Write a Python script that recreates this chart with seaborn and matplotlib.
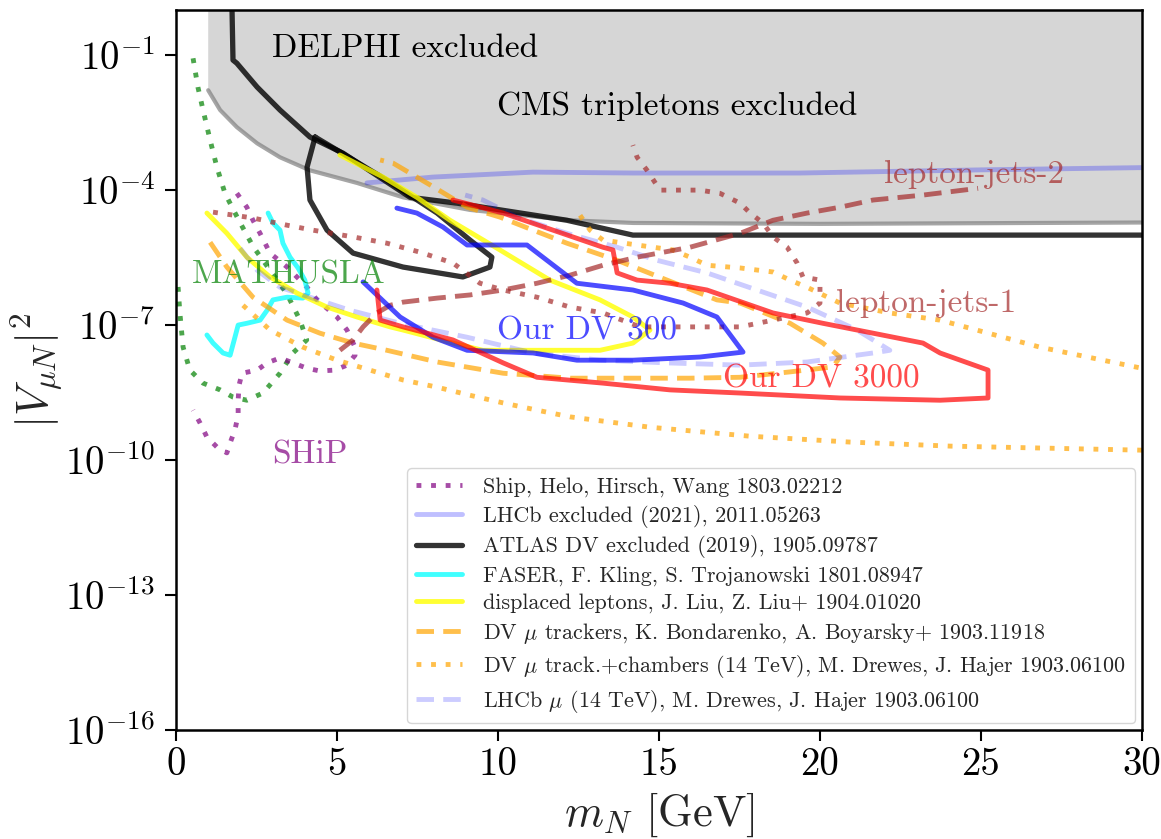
import numpy as np
import matplotlib
matplotlib.use("Agg")
import matplotlib.pyplot as plt
import seaborn as sns

# ---- data: heavy neutrino mass m_N [GeV] and log10 |V_muN|^2 ----
excl_x = [1.0, 1.0, 1.37, 1.89, 2.52, 3.23, 4.16, 5.62, 7.05, 9.13, 12.24, 14.2, 20.0, 30.0]
excl_logv = [0.0, -1.78, -2.22, -2.6, -2.96, -3.27, -3.56, -3.84, -4.16, -4.44, -4.67, -4.73, -4.75, -4.72]

atlas_x = [1.74, 1.77, 1.89, 2.52, 3.23, 4.16, 5.19, 7.27, 8.73, 12.14, 14.19, 30.0]
atlas_logv = [0.0, -1.11, -1.18, -1.71, -2.22, -2.82, -3.18, -4.16, -4.29, -4.67, -5.0, -5.0]
atlas_loop_x = [4.32, 4.07, 4.16, 4.69, 5.5, 7.05, 8.91, 9.75, 9.81, 9.13, 8.11, 6.55, 5.0, 4.32]
atlas_loop_logv = [-2.82, -3.49, -4.22, -4.89, -5.4, -5.71, -5.93, -5.71, -5.49, -5.11, -4.51, -3.78, -3.11, -2.82]

lhcb_x = [5.93, 7.98, 11.09, 14.19, 19.38, 25.0, 30.0]
lhcb_logv = [-3.84, -3.71, -3.6, -3.62, -3.62, -3.55, -3.5]

mathusla_x = [0.53, 0.68, 0.84, 1.06, 1.27, 1.52, 1.95, 2.4, 2.92, 3.44, 3.85, 4.06, 3.63, 3.23,
              2.7, 2.2, 1.77, 1.37, 0.84, 0.43, 0.22, 0.12, 0.06]
mathusla_logv = [-1.07, -1.71, -2.22, -2.89, -3.49, -4.07, -4.67, -5.26, -5.78, -6.3, -6.89, -7.33,
                 -7.62, -8.07, -8.51, -8.67, -8.6, -8.44, -8.29, -8.0, -7.49, -6.73, -6.11]

ship_x = [1.89, 2.2, 2.39, 2.61, 2.92, 3.45, 4.07, 4.38, 5.0, 5.31, 5.56, 5.56, 5.31, 4.94, 4.47,
          4.07, 3.63, 3.23, 2.83, 2.52, 2.05, 1.96, 1.93, 1.93, 1.83, 1.68, 1.58, 1.27, 0.96, 0.75, 0.53]
ship_logv = [-4.07, -4.38, -4.67, -4.96, -5.4, -5.71, -6.16, -6.44, -6.82, -7.11, -7.49, -7.67, -7.89,
             -8.0, -8.02, -7.96, -7.84, -7.73, -7.84, -8.0, -8.07, -8.33, -8.67, -9.0, -9.33, -9.62,
             -9.84, -9.71, -9.49, -9.18, -8.89]

faser_x = [2.86, 3.01, 3.23, 3.32, 3.54, 3.79, 4.0, 4.1, 3.94, 3.45, 3.01, 2.83, 2.61, 2.2, 1.93,
           1.83, 1.68, 1.46, 1.15, 0.96]
faser_logv = [-4.51, -4.73, -4.89, -5.18, -5.49, -5.73, -6.0, -6.29, -6.4, -6.38, -6.44, -6.67, -6.89,
              -6.96, -7.0, -7.27, -7.67, -7.62, -7.4, -7.22]

displ_x = [0.96, 1.58, 2.2, 2.92, 3.76, 4.69, 5.62, 6.65, 7.05, 8.6, 9.53, 11.09, 13.17, 14.19, 14.72,
           14.19, 13.17, 11.61, 10.06, 8.51, 7.48, 6.43, 5.09]
displ_logv = [-4.51, -4.96, -5.49, -5.93, -6.29, -6.6, -6.82, -7.04, -7.11, -7.4, -7.56, -7.56, -7.56,
              -7.4, -7.11, -6.82, -6.44, -6.0, -5.33, -4.67, -4.16, -3.71, -3.22]

trk_x = [1.06, 1.58, 2.39, 3.45, 4.47, 5.5, 6.55, 8.11, 10.16, 12.24, 14.41, 15.96, 17.52, 19.07, 20.4,
         20.62, 20.09, 19.07, 17.52, 16.8, 15.25, 13.7, 12.14, 11.09, 10.06, 9.04, 8.0, 6.74, 6.34]
trk_logv = [-5.16, -5.71, -6.38, -6.89, -7.18, -7.4, -7.56, -7.82, -8.07, -8.18, -8.18, -8.18, -8.16,
            -8.04, -7.93, -7.71, -7.4, -6.96, -6.51, -6.44, -6.0, -5.56, -5.18, -4.89, -4.6, -4.38,
            -3.93, -3.4, -3.33]

chamb_lo_x = [2.08, 2.92, 3.94, 5.0, 6.02, 7.05, 8.11, 9.13, 10.16, 11.21, 12.24, 14.72, 17.83, 20.93,
              24.04, 30.0]
chamb_lo_logv = [-6.56, -7.11, -7.49, -7.78, -8.0, -8.22, -8.38, -8.56, -8.73, -8.89, -9.04, -9.27,
                 -9.47, -9.6, -9.69, -9.78]
chamb_hi_x = [12.55, 12.86, 13.26, 14.32, 15.43, 15.96, 16.49, 17.52, 18.54, 19.07, 19.6, 20.62, 22.17,
              23.73, 26.83, 30.0]
chamb_hi_logv = [-4.56, -4.89, -5.11, -5.22, -5.33, -5.49, -5.67, -5.73, -5.82, -6.0, -6.16, -6.51,
                 -6.73, -6.89, -7.49, -7.96]

lhcb14_x = [1.99, 2.52, 3.23, 4.16, 5.4, 6.96, 9.04, 11.09, 13.17, 15.25, 17.52, 19.6, 21.65, 22.17,
            21.15, 19.6, 18.04, 16.49, 14.94, 13.7, 12.14, 10.59, 9.53, 8.98]
lhcb14_logv = [-5.29, -5.78, -6.16, -6.38, -6.67, -6.96, -7.27, -7.62, -7.78, -7.84, -7.89, -7.82,
               -7.62, -7.56, -7.11, -6.6, -6.22, -5.84, -5.56, -5.27, -4.96, -4.6, -4.22, -4.11]

dv300_x = [5.81, 6.96, 7.98, 9.04, 11.09, 12.45, 14.19, 16.27, 17.61, 16.8, 15.75, 14.19, 12.45, 10.9,
           9.04, 8.29, 7.48, 6.86]
dv300_logv = [-6.04, -6.82, -7.27, -7.56, -7.62, -7.78, -7.78, -7.71, -7.6, -6.82, -6.51, -6.22, -6.07,
              -5.22, -5.22, -4.82, -4.51, -4.4]

dv3000_x = [6.24, 6.34, 7.05, 8.6, 10.16, 11.21, 13.26, 15.34, 17.52, 20.62, 23.73, 25.22, 25.22, 23.73,
            23.2, 21.65, 20.09, 18.54, 16.49, 15.34, 14.32, 13.7, 13.57, 13.26, 11.71, 10.16, 8.6]
dv3000_logv = [-6.22, -6.89, -7.04, -7.33, -7.84, -8.16, -8.29, -8.44, -8.51, -8.62, -8.67, -8.62, -8.0,
               -7.62, -7.4, -7.18, -6.96, -6.73, -6.22, -6.07, -6.0, -5.84, -5.33, -5.27, -4.89, -4.51,
               -4.22]

lj1_x = [1.15, 2.39, 3.45, 4.25, 5.5, 6.55, 7.58, 8.6, 9.44, 10.16, 11.21, 12.24, 13.26, 14.41, 15.96,
         17.52, 18.54, 19.6, 20.0, 20.0, 19.47, 19.29, 18.98, 18.54, 18.23, 17.83, 17.52, 16.89, 16.27,
         15.03, 14.63, 14.32, 14.19]
lj1_logv = [-4.49, -4.62, -4.78, -4.89, -5.04, -5.18, -5.38, -5.62, -6.07, -6.22, -6.38, -6.6, -6.73,
            -7.04, -7.04, -7.04, -6.89, -6.73, -6.51, -6.0, -5.93, -5.62, -5.27, -5.04, -4.73, -4.51,
            -4.29, -4.07, -4.0, -4.0, -3.56, -3.27, -3.0]

lj2_x = [5.09, 5.5, 5.81, 6.24, 6.65, 7.05, 8.11, 9.13, 10.16, 11.21, 12.24, 13.26, 14.32, 15.96, 17.52,
         18.54, 19.6, 20.62, 21.65, 23.2, 24.91]
lj2_logv = [-7.56, -7.33, -7.04, -6.73, -6.56, -6.49, -6.4, -6.33, -6.22, -6.07, -5.89, -5.67, -5.49,
            -5.27, -4.96, -4.67, -4.51, -4.38, -4.22, -4.11, -3.96]

xticks = [0, 5, 10, 15, 20, 25, 30]
ytick_exp = [-16, -13, -10, -7, -4, -1]

legend_order = [
    "Ship, Helo, Hirsch, Wang 1803.02212",
    "LHCb excluded (2021), 2011.05263",
    "ATLAS DV excluded (2019), 1905.09787",
    "FASER, F. Kling, S. Trojanowski 1801.08947",
    "displaced leptons, J. Liu, Z. Liu+ 1904.01020",
    r"DV $\mu$ trackers, K. Bondarenko, A. Boyarsky+ 1903.11918",
    r"DV $\mu$ track.+chambers (14 TeV), M. Drewes, J. Hajer 1903.06100",
    r"LHCb $\mu$ (14 TeV), M. Drewes, J. Hajer 1903.06100",
]

sns.set_theme(style="ticks")
plt.rcParams["font.family"] = ["cmr10", "DejaVu Serif"]
plt.rcParams["mathtext.fontset"] = "cm"
plt.rcParams["axes.unicode_minus"] = False
plt.rcParams["axes.formatter.use_mathtext"] = True

fig = plt.figure(figsize=(11.61, 8.39), dpi=100)
ax = fig.add_axes([0.1516, 0.1299, 0.832, 0.858])

DOT = (0, (1, 2))
DASH = (0, (3.6, 1.9))
LW = 3.5


def draw(x, logv, **kw):
    sns.lineplot(x=x, y=np.power(10.0, logv), sort=False, estimator=None, ax=ax, **kw)


# excluded region (DELPHI / CMS)
ax.fill(excl_x + [30.0], list(np.power(10.0, excl_logv)) + [1.0], color="#d6d6d6", lw=0, zorder=0)
draw(excl_x[1:], excl_logv[1:], color="gray", alpha=0.7, lw=3, zorder=1)

draw(mathusla_x, mathusla_logv, color="green", alpha=0.7, lw=LW, ls=DOT)
draw(ship_x, ship_logv, color="purple", alpha=0.7, lw=LW, ls=DOT, label=legend_order[0])
draw(lhcb_x, lhcb_logv, color="blue", alpha=0.25, lw=LW, label=legend_order[1])
draw(atlas_x, atlas_logv, color="black", alpha=0.8, lw=3.8, label=legend_order[2])
draw(atlas_loop_x, atlas_loop_logv, color="black", alpha=0.8, lw=3.8)
draw(faser_x, faser_logv, color="cyan", alpha=0.75, lw=LW, label=legend_order[3])
draw(displ_x, displ_logv, color="yellow", alpha=0.8, lw=LW, label=legend_order[4])
draw(trk_x, trk_logv, color="orange", alpha=0.7, lw=LW, ls=DASH, label=legend_order[5])
draw(chamb_lo_x, chamb_lo_logv, color="orange", alpha=0.7, lw=LW, ls=DOT, label=legend_order[6])
draw(chamb_hi_x, chamb_hi_logv, color="orange", alpha=0.7, lw=LW, ls=DOT)
draw(lhcb14_x, lhcb14_logv, color="blue", alpha=0.2, lw=LW, ls=DASH, label=legend_order[7])
draw(lj1_x, lj1_logv, color="brown", alpha=0.7, lw=LW, ls=DOT)
draw(lj2_x, lj2_logv, color="brown", alpha=0.7, lw=LW, ls=DASH)
draw(dv300_x, dv300_logv, color="blue", alpha=0.7, lw=LW)
draw(dv3000_x, dv3000_logv, color="red", alpha=0.7, lw=LW)

# region labels
ax.text(2.98, 10**-1.04, "DELPHI excluded", fontsize=24, color="black")
ax.text(9.97, 10**-2.33, "CMS tripletons excluded", fontsize=24, color="black")
ax.text(0.5, 10**-6.07, "MATHUSLA", fontsize=24, color="green", alpha=0.7)
ax.text(2.98, 10**-10.07, "SHiP", fontsize=24, color="purple", alpha=0.7)
ax.text(9.97, 10**-7.33, "Our DV 300", fontsize=24, color="blue", alpha=0.7)
ax.text(17.0, 10**-8.38, "Our DV 3000", fontsize=24, color="red", alpha=0.7)
ax.text(22.0, 10**-3.84, "lepton-jets-2", fontsize=24, color="brown", alpha=0.7)
ax.text(20.5, 10**-6.71, "lepton-jets-1", fontsize=24, color="brown", alpha=0.7)

ax.set_yscale("log")
ax.set_xlim(0, 30)
ax.set_ylim(1e-16, 1)
ax.set_xticks(xticks)
ax.set_xticklabels([str(t) for t in xticks])
ax.set_yticks(np.power(10.0, ytick_exp))
ax.set_yticklabels([rf"$10^{{{e}}}$" for e in ytick_exp])
ax.minorticks_off()
ax.tick_params(axis="both", which="major", labelsize=28, direction="out", length=8,
               width=1.5, color="black", labelcolor="black")
ax.tick_params(axis="y", pad=7)
ax.tick_params(axis="x", pad=4)
for s in ax.spines.values():
    s.set_color("black")
    s.set_linewidth(1.8)

ax.set_xlabel(r"$m_N$ [GeV]", fontsize=32, labelpad=6)
ax.set_ylabel(r"$|V_{\mu N}|^2$", fontsize=32, labelpad=1)

handles, labels = ax.get_legend_handles_labels()
lookup = dict(zip(labels, handles))
ax.legend([lookup[k] for k in legend_order], legend_order, loc="lower right", fontsize=15.9,
          handlelength=2.1, handletextpad=0.95, labelspacing=0.34, borderpad=0.4,
          borderaxespad=0.3, framealpha=0.8, edgecolor="0.8", fancybox=True)

fig.savefig("out.png", dpi=100)
